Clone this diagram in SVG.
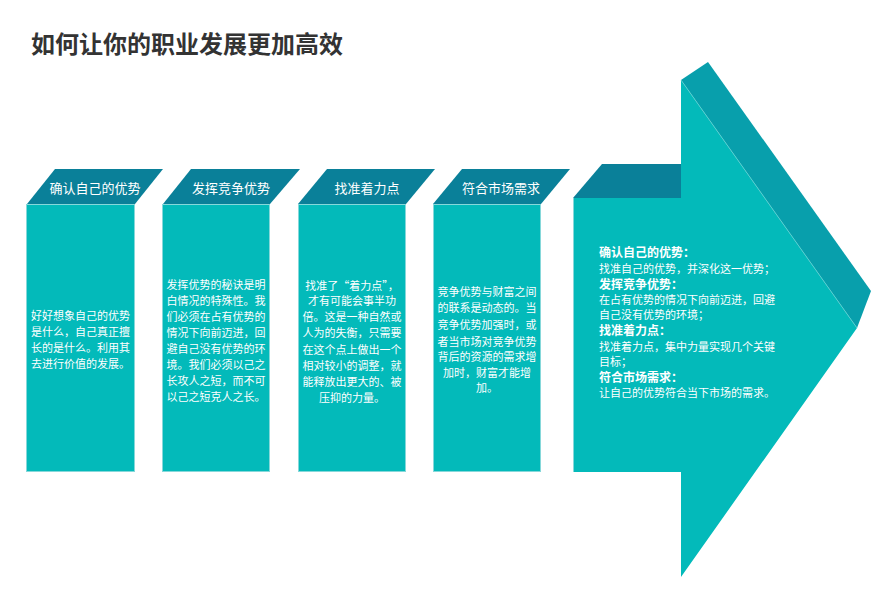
<svg xmlns="http://www.w3.org/2000/svg" width="874" height="589" viewBox="0 0 874 589">
<style>
.front{fill:#03baba;stroke:#86d8da;stroke-width:1}
.top{fill:#0a8099}
.side{fill:#089fac}
.hd{font-family:"Noto Sans CJK SC","Noto Sans",sans-serif;font-size:13px;fill:#ffffff;text-anchor:middle}
.bd{font-family:"Noto Sans CJK SC","Noto Sans",sans-serif;font-size:11px;fill:#ffffff;text-anchor:middle}
.ab{font-family:"Noto Sans CJK SC","Noto Sans",sans-serif;font-size:12px;font-weight:700;fill:#ffffff}
.an{font-family:"Noto Sans CJK SC","Noto Sans",sans-serif;font-size:11px;fill:#ffffff}
.title{font-family:"Noto Sans CJK SC","Noto Sans",sans-serif;font-size:24px;font-weight:700;fill:#333333}
</style>
<rect width="874" height="589" fill="#ffffff"/>
<text class="title" x="31" y="53">如何让你的职业发展更加高效</text>

<g id="col1">
<polygon class="top" points="27,204 55,169 163,169 135,204"/>
<rect class="front" x="26.5" y="204.5" width="108" height="267"/>
<text class="hd" x="95" y="193">确认自己的优势</text>
<text class="bd" x="80.5" y="320">好好想象自己的优势</text>
<text class="bd" x="80.5" y="336">是什么，自己真正擅</text>
<text class="bd" x="80.5" y="352">长的是什么。利用其</text>
<text class="bd" x="80.5" y="368">去进行价值的发展。</text>
</g>

<g id="col2">
<polygon class="top" points="163,204 191,169 300,169 270,204"/>
<rect class="front" x="162.5" y="204.5" width="107" height="267"/>
<text class="hd" x="231" y="193">发挥竞争优势</text>
<text class="bd" x="216" y="289">发挥优势的秘诀是明</text>
<text class="bd" x="216" y="305">白情况的特殊性。我</text>
<text class="bd" x="216" y="321">们必须在占有优势的</text>
<text class="bd" x="216" y="337">情况下向前迈进，回</text>
<text class="bd" x="216" y="353">避自己没有优势的环</text>
<text class="bd" x="216" y="369">境。我们必须以己之</text>
<text class="bd" x="216" y="385">长攻人之短，而不可</text>
<text class="bd" x="216" y="401">以己之短克人之长。</text>
</g>

<g id="col3">
<polygon class="top" points="298,204 327,169 435,169 406,204"/>
<rect class="front" x="298.5" y="204.5" width="107" height="267"/>
<text class="hd" x="367" y="193">找准着力点</text>
<text class="bd" x="352" y="290">找准了“着力点”，</text>
<text class="bd" x="352" y="305">才有可能会事半功</text>
<text class="bd" x="352" y="321">倍。这是一种自然或</text>
<text class="bd" x="352" y="337">人为的失衡，只需要</text>
<text class="bd" x="352" y="354">在这个点上做出一个</text>
<text class="bd" x="352" y="370">相对较小的调整，就</text>
<text class="bd" x="352" y="386">能释放出更大的、被</text>
<text class="bd" x="352" y="402">压抑的力量。</text>
</g>

<g id="col4">
<polygon class="top" points="433,204 462,169 570,169 541,204"/>
<rect class="front" x="433.5" y="204.5" width="107" height="267"/>
<text class="hd" x="501" y="193">符合市场需求</text>
<text class="bd" x="487" y="296">竞争优势与财富之间</text>
<text class="bd" x="487" y="312">的联系是动态的。当</text>
<text class="bd" x="487" y="329">竞争优势加强时，或</text>
<text class="bd" x="487" y="346">者当市场对竞争优势</text>
<text class="bd" x="487" y="361">背后的资源的需求增</text>
<text class="bd" x="487" y="377">加时，财富才能增</text>
<text class="bd" x="487" y="392">加。</text>
</g>

<g id="arrow">
<polygon class="top" points="573,198 602,164 682,164 682,198"/>
<polygon class="side" points="681,80 708,62 871,291 857,328"/>
<polygon fill="#03baba" points="573,198 681,198 681,80 857,328 681,577 681,472 573,472"/>
<line x1="681" y1="80" x2="857" y2="328" stroke="#5fd0d2" stroke-width="0.8"/>
<line x1="573.5" y1="198" x2="573.5" y2="472" stroke="#86d8da" stroke-width="1"/>
<text class="ab" x="599" y="257">确认自己的优势：</text>
<text class="an" x="599" y="273">找准自己的优势，并深化这一优势；</text>
<text class="ab" x="599" y="289">发挥竞争优势：</text>
<text class="an" x="599" y="304">在占有优势的情况下向前迈进，回避</text>
<text class="an" x="599" y="319">自己没有优势的环境；</text>
<text class="ab" x="599" y="335">找准着力点：</text>
<text class="an" x="599" y="351">找准着力点，集中力量实现几个关键</text>
<text class="an" x="599" y="366">目标；</text>
<text class="ab" x="599" y="382">符合市场需求：</text>
<text class="an" x="599" y="397">让自己的优势符合当下市场的需求。</text>
</g>
</svg>
